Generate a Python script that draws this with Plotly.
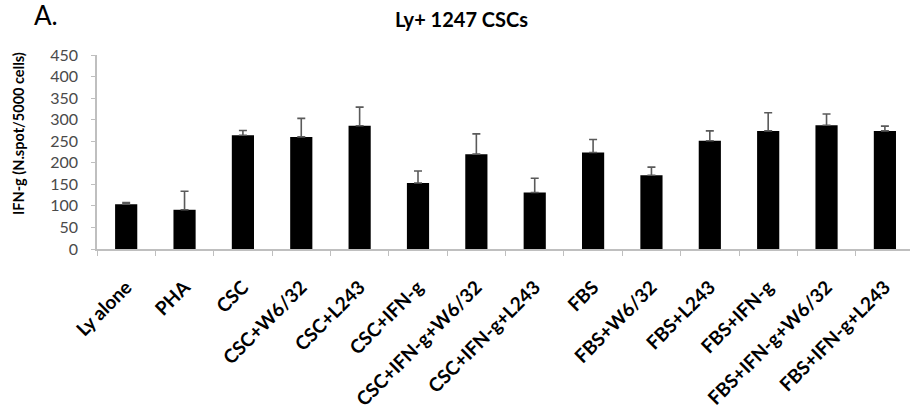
import plotly.graph_objects as go

categories = ["Ly alone", "PHA", "CSC", "CSC+W6/32", "CSC+L243", "CSC+IFN-g",
              "CSC+IFN-g+W6/32", "CSC+IFN-g+L243", "FBS", "FBS+W6/32", "FBS+L243",
              "FBS+IFN-g", "FBS+IFN-g+W6/32", "FBS+IFN-g+L243"]
values = [104, 91, 264, 260, 286, 153, 220, 131, 224, 171, 251, 274, 287, 274]
errors = [4, 43, 11, 43, 43, 28, 47, 33, 30, 19, 23, 42, 26, 11]
y_ticks = [0, 50, 100, 150, 200, 250, 300, 350, 400, 450]

W, H = 910, 416
L, R, T, B = 97, 0, 55, 167
pw = W - L - R
ph = H - T - B

def px(x):
    return (x - L) / pw

def py(y):
    return (H - B - y) / ph

fig = go.Figure()
fig.add_trace(go.Bar(
    x=categories, y=values,
    marker=dict(color="black", line=dict(width=0)),
    error_y=dict(type="data", array=errors, arrayminus=[0] * len(errors),
                 symmetric=False, color="#5a5a5a", thickness=1.6, width=4),
))

fig.update_layout(
    width=W, height=H,
    margin=dict(l=L, r=R, t=T, b=B, pad=0),
    plot_bgcolor="white", paper_bgcolor="white",
    showlegend=False, bargap=0.62,
    font=dict(family="Lato", color="black"),
    xaxis=dict(
        range=[-0.5, 13.43], showgrid=False, zeroline=False,
        showline=True, linecolor="#bfbfbf", linewidth=1.5,
        ticks="outside", tickson="boundaries", ticklen=5, tickcolor="#bfbfbf",
        tickangle=-45, ticklabelstandoff=18,
        tickfont=dict(family="Lato", size=19, color="black", weight="bold"),
    ),
    yaxis=dict(
        range=[0, 450], tickvals=y_ticks, showgrid=False, zeroline=False,
        showline=True, linecolor="#bfbfbf", linewidth=1.5,
        ticks="outside", ticklen=4, tickcolor="#bfbfbf", ticklabelstandoff=10,
        tickfont=dict(family="Lato", size=16, color="#4a4a4a"),
    ),
    annotations=[
        dict(text="Ly+ 1247 CSCs", xref="paper", yref="paper", x=px(461), y=py(19),
             xanchor="center", yanchor="middle", showarrow=False,
             font=dict(family="Lato", size=20, color="black", weight="bold")),
        dict(text="A.", xref="paper", yref="paper", x=px(32), y=py(15),
             xanchor="left", yanchor="middle", showarrow=False,
             font=dict(family="Lato", size=26, color="black")),
        dict(text="IFN-g (N.spot/5000 cells)", xref="paper", yref="paper",
             x=px(18), y=py(134), xanchor="center", yanchor="middle",
             textangle=-90, showarrow=False,
             font=dict(family="Lato", size=14.5, color="black", weight="bold")),
    ],
)

fig.write_html("out.html", config={"displayModeBar": False},
               post_script="document.body.style.margin='0px';document.body.style.padding='0px';")
